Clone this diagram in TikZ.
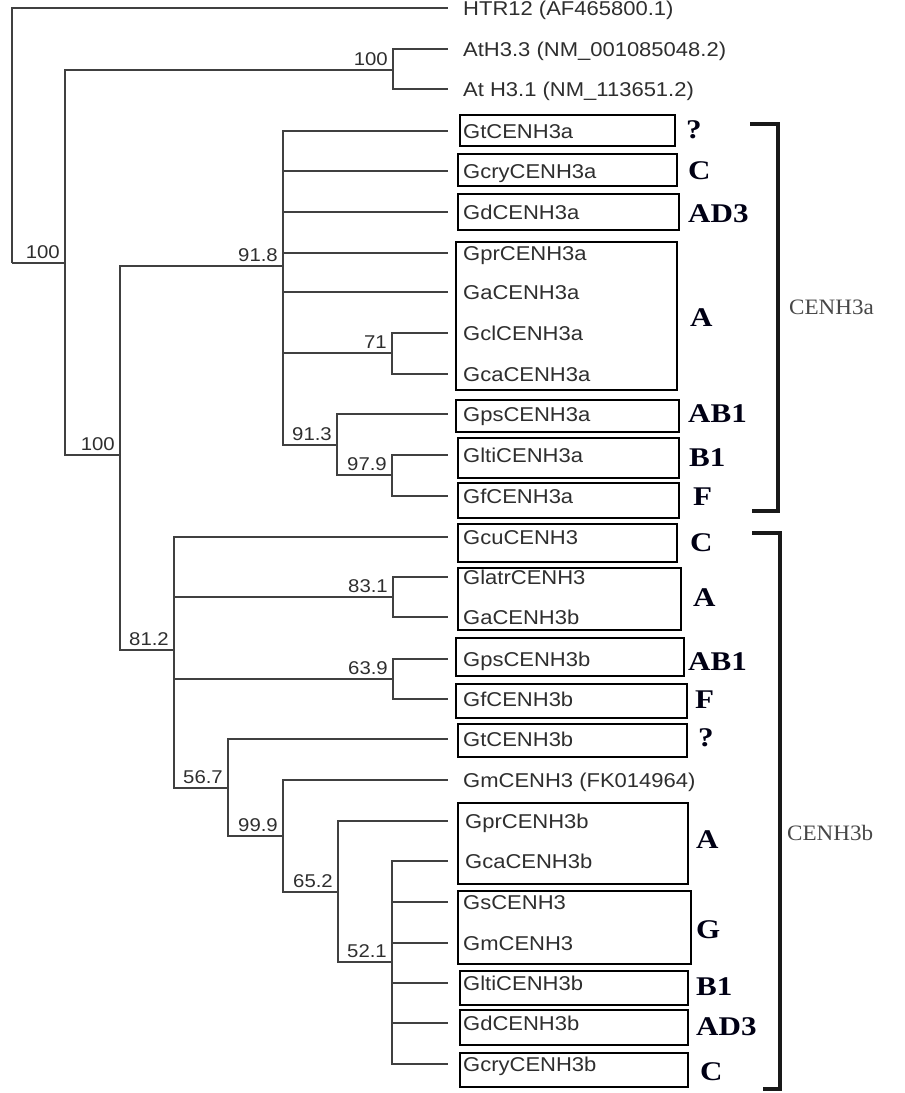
\documentclass[tikz,border=0pt]{standalone}
\usepackage{fontspec}
\usetikzlibrary{calc}
\newfontfamily\leaffont[FakeStretch=1.1]{Liberation Sans}
\newfontfamily\grpfont[FakeStretch=1.15]{Liberation Serif}
\newfontfamily\cladefont[FakeStretch=1.05]{Liberation Serif}
\begin{document}
\begin{tikzpicture}[x=1pt,y=-1pt,
  tree/.style={line width=1.9pt, draw=black!75},
  leaf/.style={anchor=west, inner xsep=15pt, inner ysep=0pt,
    font=\leaffont\fontsize{20}{24}\selectfont, text=black!82,
    text height=14.3pt, text depth=0pt},
  boot/.style={anchor=south east, inner sep=0pt,
    font=\leaffont\fontsize{18.5}{22}\selectfont, text=black!82,
    text height=13.2pt, text depth=0pt},
  boxed/.style={draw=black, line width=1.5pt},
  grp/.style={anchor=west, inner sep=0pt,
    font=\grpfont\bfseries\fontsize{27}{31}\selectfont, text=black!92!blue,
    text height=17.9pt, text depth=0pt},
  brk/.style={line width=3.2pt, draw=black!90},
  clade/.style={anchor=west, inner sep=0pt,
    font=\cladefont\fontsize{22}{26}\selectfont, text=black!72}]
\useasboundingbox (0,0) rectangle (905,1093);
% internal nodes
\coordinate (r) at (12,263);
\coordinate (n2) at (65,263);
\coordinate (nAt) at (393,70);
\coordinate (n3) at (120,455);
\coordinate (n918) at (283,266);
\coordinate (n71) at (392,353);
\coordinate (n913) at (337,445);
\coordinate (n979) at (392,475);
\coordinate (n812) at (174,650);
\coordinate (n831) at (393,597);
\coordinate (n639) at (393,679);
\coordinate (n567) at (228,788);
\coordinate (n999) at (283,836);
\coordinate (n652) at (338,892);
\coordinate (n521) at (392,962);
% leaves
\node[leaf] (HTR) at (448,8) {HTR12 (AF465800.1)};
\node[leaf] (At33) at (448,49) {AtH3.3 (NM\_001085048.2)};
\node[leaf] (At31) at (448,89) {At H3.1 (NM\_113651.2)};
\node[leaf] (Gt3a) at (448,131) {GtCENH3a};
\node[leaf] (Gcry3a) at (448,171) {GcryCENH3a};
\node[leaf] (Gd3a) at (448,212) {GdCENH3a};
\node[leaf] (Gpr3a) at (448,253) {GprCENH3a};
\node[leaf] (Ga3a) at (448,292) {GaCENH3a};
\node[leaf] (Gcl3a) at (448,333) {GclCENH3a};
\node[leaf] (Gca3a) at (448,374) {GcaCENH3a};
\node[leaf] (Gps3a) at (448,414) {GpsCENH3a};
\node[leaf] (Glti3a) at (448,455) {GltiCENH3a};
\node[leaf] (Gf3a) at (448,496) {GfCENH3a};
\node[leaf] (Gcu) at (448,537) {GcuCENH3};
\node[leaf] (Glatr) at (448,577) {GlatrCENH3};
\node[leaf] (Ga3b) at (448,617) {GaCENH3b};
\node[leaf] (Gps3b) at (448,659) {GpsCENH3b};
\node[leaf] (Gf3b) at (448,699) {GfCENH3b};
\node[leaf] (Gt3b) at (448,739) {GtCENH3b};
\node[leaf] (GmFK) at (448,780) {GmCENH3 (FK014964)};
\node[leaf, inner xsep=17pt] (Gpr3b) at (448,821) {GprCENH3b};
\node[leaf, inner xsep=17pt] (Gca3b) at (448,861) {GcaCENH3b};
\node[leaf] (Gs) at (448,902) {GsCENH3};
\node[leaf] (Gm) at (448,943) {GmCENH3};
\node[leaf] (Glti3b) at (448,983) {GltiCENH3b};
\node[leaf] (Gd3b) at (448,1023) {GdCENH3b};
\node[leaf] (Gcry3b) at (448,1064) {GcryCENH3b};
% branches
\draw[tree] (r) |- (HTR.west);
\draw[tree] (r) -- (n2);
\draw[tree] (n2) |- (nAt);
\draw[tree] (n2) |- (n3);
\draw[tree] (nAt) |- (At33.west);
\draw[tree] (nAt) |- (At31.west);
\draw[tree] (n3) |- (n918);
\draw[tree] (n3) |- (n812);
\draw[tree] (n918) |- (Gt3a.west);
\draw[tree] (n918) |- (Gcry3a.west);
\draw[tree] (n918) |- (Gd3a.west);
\draw[tree] (n918) |- (Gpr3a.west);
\draw[tree] (n918) |- (Ga3a.west);
\draw[tree] (n918) |- (n71);
\draw[tree] (n918) |- (n913);
\draw[tree] (n71) |- (Gcl3a.west);
\draw[tree] (n71) |- (Gca3a.west);
\draw[tree] (n913) |- (Gps3a.west);
\draw[tree] (n913) |- (n979);
\draw[tree] (n979) |- (Glti3a.west);
\draw[tree] (n979) |- (Gf3a.west);
\draw[tree] (n812) |- (Gcu.west);
\draw[tree] (n812) |- (n831);
\draw[tree] (n812) |- (n639);
\draw[tree] (n812) |- (n567);
\draw[tree] (n831) |- (Glatr.west);
\draw[tree] (n831) |- (Ga3b.west);
\draw[tree] (n639) |- (Gps3b.west);
\draw[tree] (n639) |- (Gf3b.west);
\draw[tree] (n567) |- (Gt3b.west);
\draw[tree] (n567) |- (n999);
\draw[tree] (n999) |- (GmFK.west);
\draw[tree] (n999) |- (n652);
\draw[tree] (n652) |- (Gpr3b.west);
\draw[tree] (n652) |- (n521);
\draw[tree] (n521) |- (Gca3b.west);
\draw[tree] (n521) |- (Gs.west);
\draw[tree] (n521) |- (Gm.west);
\draw[tree] (n521) |- (Glti3b.west);
\draw[tree] (n521) |- (Gd3b.west);
\draw[tree] (n521) |- (Gcry3b.west);
% bootstrap values
\node[boot] (b1) at ($(n2)+(-5,-4)$) {100};
\node[boot] (b2) at ($(nAt)+(-5,-4)$) {100};
\node[boot] (b3) at ($(n3)+(-5,-4)$) {100};
\node[boot] (b4) at ($(n918)+(-5,-4)$) {91.8};
\node[boot] (b5) at ($(n71)+(-5,-4)$) {71};
\node[boot] (b6) at ($(n913)+(-5,-4)$) {91.3};
\node[boot] (b7) at ($(n979)+(-5,-4)$) {97.9};
\node[boot] (b8) at ($(n812)+(-5,-4)$) {81.2};
\node[boot] (b9) at ($(n831)+(-5,-4)$) {83.1};
\node[boot] (b10) at ($(n639)+(-5,-4)$) {63.9};
\node[boot] (b11) at ($(n567)+(-5,-4)$) {56.7};
\node[boot] (b12) at ($(n999)+(-5,-4)$) {99.9};
\node[boot] (b13) at ($(n652)+(-5,-4)$) {65.2};
\node[boot] (b14) at ($(n521)+(-5,-4)$) {52.1};
% boxes
\draw[boxed] (460,115) rectangle (675,146);
\draw[boxed] (458,154) rectangle (677,186);
\draw[boxed] (458,194) rectangle (679,230);
\draw[boxed] (456,242) rectangle (677,390);
\draw[boxed] (456,400) rectangle (679,432);
\draw[boxed] (458,438) rectangle (679,478);
\draw[boxed] (458,483) rectangle (679,518);
\draw[boxed] (458,524) rectangle (677,562);
\draw[boxed] (458,568) rectangle (681,630);
\draw[boxed] (456,638) rectangle (684,676);
\draw[boxed] (456,684) rectangle (687,718);
\draw[boxed] (458,724) rectangle (687,757);
\draw[boxed] (458,803) rectangle (688,884);
\draw[boxed] (458,891) rectangle (691,964);
\draw[boxed] (460,971) rectangle (688,1005);
\draw[boxed] (460,1010) rectangle (688,1045);
\draw[boxed] (460,1053) rectangle (688,1087);
% genome group labels
\node[grp] (g1) at (686,130) {?};
\node[grp] (g2) at (688,171) {C};
\node[grp] (g3) at (688,214) {AD3};
\node[grp] (g4) at (690,318) {A};
\node[grp] (g5) at (688,414) {AB1};
\node[grp] (g6) at (689,458) {B1};
\node[grp] (g7) at (693,497) {F};
\node[grp] (g8) at (690,543) {C};
\node[grp] (g9) at (693,598) {A};
\node[grp] (g10) at (688,662) {AB1};
\node[grp] (g11) at (695,700) {F};
\node[grp] (g12) at (698,738) {?};
\node[grp] (g13) at (696,840) {A};
\node[grp] (g14) at (696,930) {G};
\node[grp] (g15) at (696,987) {B1};
\node[grp] (g16) at (696,1027) {AD3};
\node[grp] (g17) at (700,1072) {C};
% brackets
\coordinate (ka1) at (750,124);
\coordinate (ka2) at (778,124);
\coordinate (ka3) at (778,511);
\coordinate (ka4) at (752,511);
\draw[brk] (ka1) -- (ka2) -- (ka3) -- (ka4);
\coordinate (kb1) at (752,533);
\coordinate (kb2) at (780,533);
\coordinate (kb3) at (780,1089);
\coordinate (kb4) at (763,1089);
\draw[brk] (kb1) -- (kb2) -- (kb3) -- (kb4);
\node[clade] (cA) at (789,307) {CENH3a};
\node[clade] (cB) at (787,833) {CENH3b};
\end{tikzpicture}
\end{document}
